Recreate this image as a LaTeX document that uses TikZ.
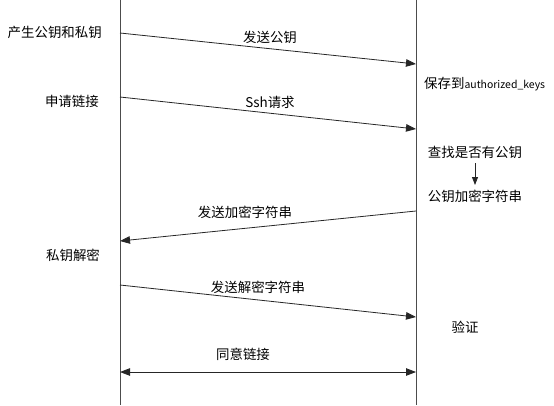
\documentclass[tikz,border=0pt]{standalone}
\usepackage{fontspec}
\setmainfont{Noto Sans CJK SC}
\usetikzlibrary{arrows.meta}
\begin{document}
\begin{tikzpicture}[x=1bp,y=-1bp,
  lbl/.style={font=\fontsize{13.5}{15}\selectfont, inner sep=0pt},
  tip/.style={Triangle[length=10bp,width=7.5bp]},
  life/.style={draw=black!70, line width=0.9bp},
  msg/.style={draw=black!85, line width=0.8bp, -{Triangle[length=10bp,width=7.5bp]}},
  dmsg/.style={draw=black!85, line width=0.8bp, {Triangle[length=10bp,width=7.5bp]}-{Triangle[length=10bp,width=7.5bp]}}]
\useasboundingbox (0,0) rectangle (554,405);
% lifelines
\coordinate (Lt) at (120,0); \coordinate (Lb) at (120,405);
\coordinate (Rt) at (416,0); \coordinate (Rb) at (416,405);
\draw[life] (Lt) -- (Lb);
\draw[life] (Rt) -- (Rb);
% message endpoints
\coordinate (a1) at (120,33);  \coordinate (b1) at (416,64);
\coordinate (a2) at (120,97);  \coordinate (b2) at (416,129);
\coordinate (a3) at (416,211); \coordinate (b3) at (120,241);
\coordinate (a4) at (120,285); \coordinate (b4) at (416,317);
\coordinate (a5) at (120,372); \coordinate (b5) at (416,372);
\draw[msg] (a1) -- (b1);
\draw[msg] (a2) -- (b2);
\draw[msg] (a3) -- (b3);
\draw[msg] (a4) -- (b4);
\draw[dmsg] (a5) -- (b5);
% message labels
\node[lbl] (m1) at (270,37) {发送公钥};
\node[lbl] (m2) at (270,102) {Ssh请求};
\node[lbl] (m3) at (245,212) {发送加密字符串};
\node[lbl] (m4) at (258,287) {发送解密字符串};
\node[lbl] (m5) at (243,354) {同意链接};
% left side
\node[lbl, anchor=east] (l1) at (102,32) {产生公钥和私钥};
\node[lbl, anchor=east] (l2) at (99,101) {申请链接};
\node[lbl] (l3) at (73,255) {私钥解密};
% right side
\node[lbl, anchor=west] (r1) at (424,84) {保存到{\fontsize{10.5}{12}\selectfont authorized\_keys}};
\node[lbl] (r2) at (475,152) {查找是否有公钥};
\node[lbl] (r3) at (475,196) {公钥加密字符串};
\node[lbl] (r4) at (465,327) {验证};
\coordinate (v1) at (475,163); \coordinate (v2) at (475,185);
\draw[draw=black!85, line width=0.8bp, -{Triangle[length=8bp,width=6bp]}] (v1) -- (v2);
\end{tikzpicture}
\end{document}
